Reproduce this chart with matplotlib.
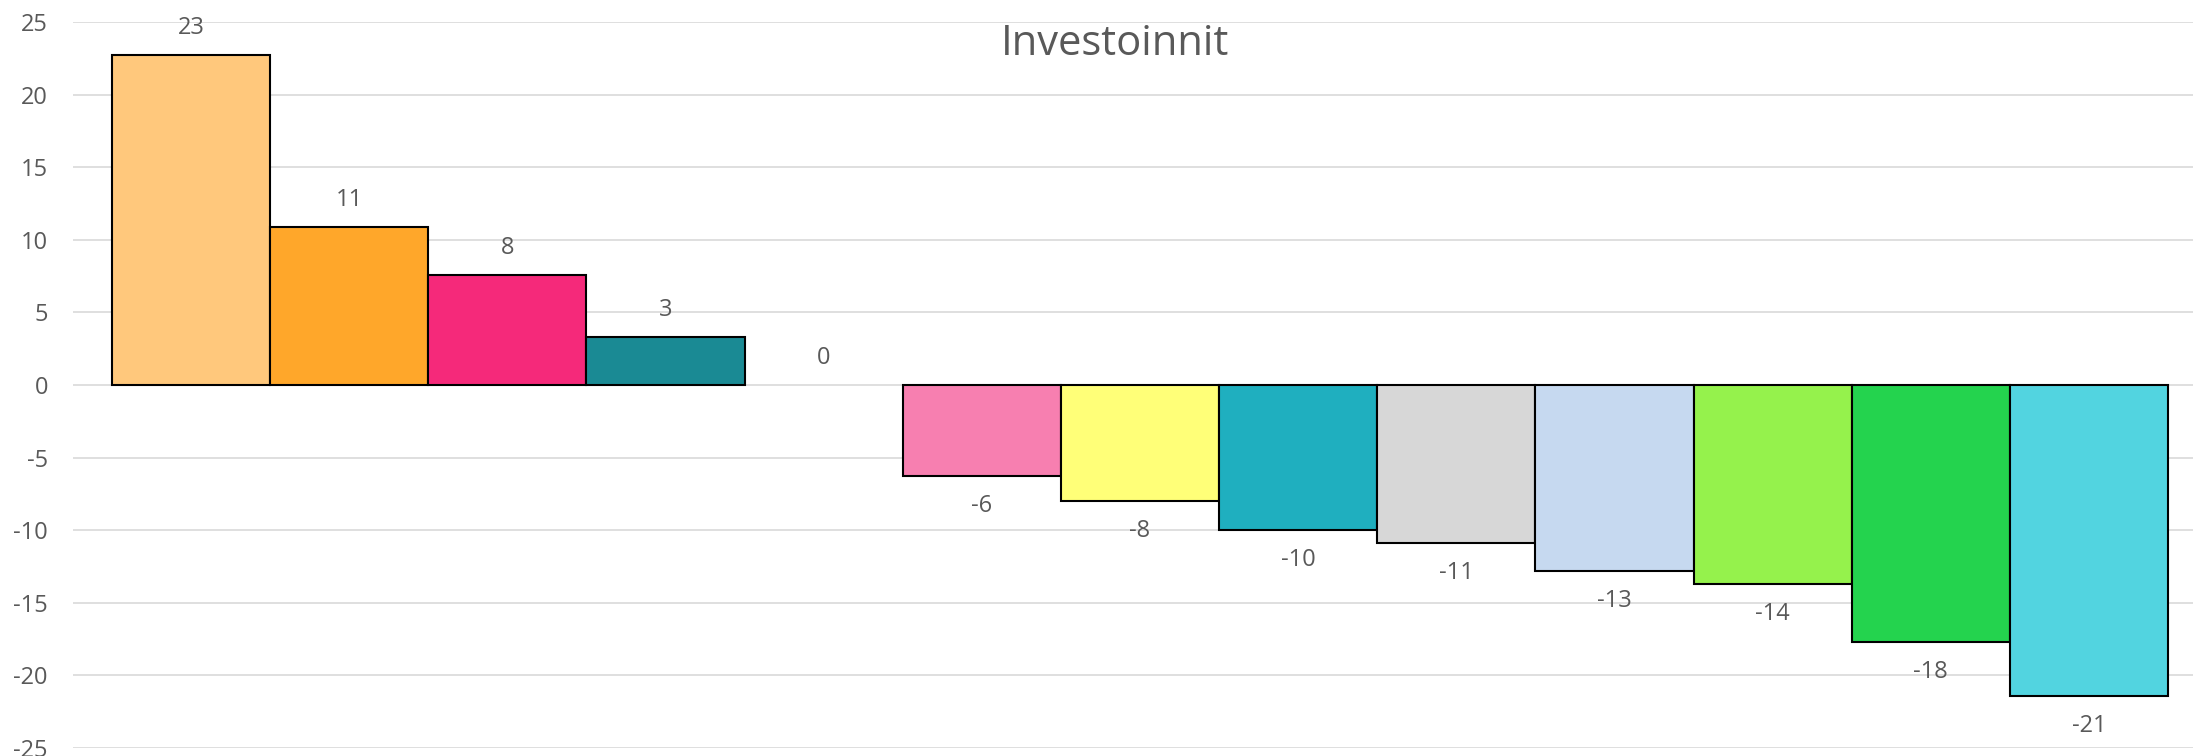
import matplotlib
matplotlib.use('Agg')
import matplotlib.pyplot as plt
import numpy as np

# values; labels are the rounded figures shown
values = [22.7, 10.9, 7.6, 3.3, 0.0, -6.3, -8.0, -10.0, -10.9, -12.8, -13.7, -17.7, -21.4]
labels = ['23', '11', '8', '3', '0', '-6', '-8', '-10', '-11', '-13', '-14', '-18', '-21']
colors = ['#FFC87C', '#FFA72A', '#F5297A', '#1A8A94', '#FFFFFF', '#F77FB0', '#FFFF78',
          '#1FAFBF', '#D7D7D7', '#C6D9F0', '#95F24C', '#24D34E', '#52D4E0']
yticks = [-25, -20, -15, -10, -5, 0, 5, 10, 15, 20, 25]

plt.rcParams['font.family'] = ['Open Sans', 'DejaVu Sans']
textcol = '#595959'

fig = plt.figure(figsize=(21.93, 7.56), dpi=100)
ax = fig.add_axes([73 / 2193, 8 / 756, 1 - 73 / 2193, 1 - 30 / 756])

x = np.arange(len(values))
lws = [0 if v == 0 else 1.5 for v in values]
ax.bar(x, values, width=1.0, color=colors, edgecolor='black', linewidth=lws, zorder=3)

for xi, v, lab in zip(x, values, labels):
    if v >= 0:
        ax.annotate(lab, (xi, v), xytext=(0, 19.5), textcoords='offset points',
                    ha='center', va='center', fontsize=17, color=textcol)
    else:
        ax.annotate(lab, (xi, v), xytext=(0, -21.5), textcoords='offset points',
                    ha='center', va='center', fontsize=17, color=textcol)

ax.set_ylim(-25, 25)
ax.set_xlim(-0.5 - 39 / 158, 12.5 + 25 / 158)
ax.set_yticks(yticks)
ax.set_yticklabels([str(t) for t in yticks], fontsize=17, color=textcol)
ax.set_xticks([])
ax.tick_params(axis='y', length=0, pad=18)
ax.grid(axis='y', color='#D9D9D9', linewidth=1.2, zorder=0)
for s in ax.spines.values():
    s.set_visible(False)

fig.text(1115 / 2193, 1 - 44 / 756, 'Investoinnit', ha='center', va='center',
         fontsize=30, color=textcol)

fig.savefig('out.png', dpi=100)
